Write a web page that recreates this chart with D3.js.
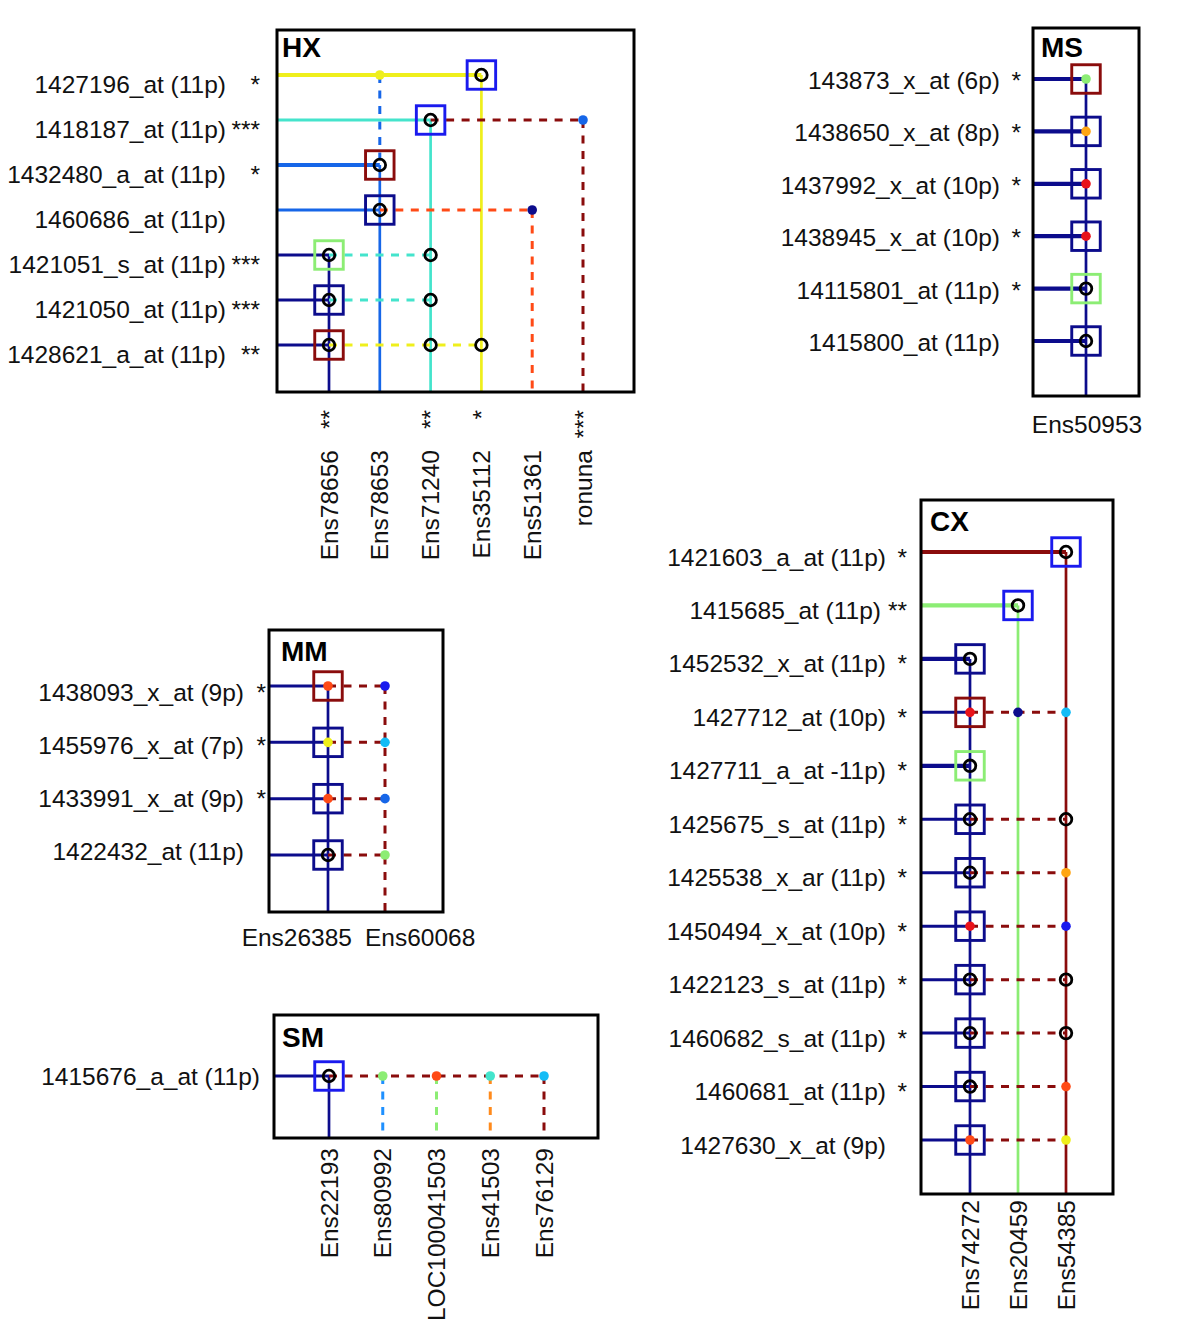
<!DOCTYPE html>
<html><head><meta charset="utf-8">
<script src="https://cdn.jsdelivr.net/npm/d3@7"></script>
<style>body{margin:0;background:#fff}svg{display:block}text{font-family:"Liberation Sans",Arial,sans-serif;fill:#111}</style>
</head><body><svg id="c" width="1200" height="1335"></svg>
<script>
// ---------------- DATA ----------------
// HX
const hxRows = ["1427196_at (11p)","1418187_at (11p)","1432480_a_at (11p)","1460686_at (11p)","1421051_s_at (11p)","1421050_at (11p)","1428621_a_at (11p)"];
const hxRowStars = ["*","***","*","","***","***","**"];
const hxCols = ["Ens78656","Ens78653","Ens71240","Ens35112","Ens51361","ronuna"];
const hxColStars = ["**","","**","*","","***"];
const hxV = [
  {c:1,r0:0,r1:2,color:"dodger",dash:true},{c:1,r0:2,r1:null,color:"dodger",dash:false},
  {c:2,r0:1,r1:null,color:"turq",dash:false},{c:0,r0:4,r1:null,color:"navy",dash:false},
  {c:3,r0:0,r1:null,color:"yellow",dash:false},{c:4,r0:3,r1:null,color:"ored",dash:true},
  {c:5,r0:1,r1:null,color:"dred",dash:true}];
const hxH = [
  {r:0,c0:-1,c1:3,color:"yellow",dash:false},
  {r:1,c0:-1,c1:2,color:"turq",dash:false},{r:1,c0:2,c1:5,color:"dred",dash:true},
  {r:2,c0:-1,c1:1,color:"dodger",dash:false},
  {r:3,c0:-1,c1:1,color:"dodger",dash:false},{r:3,c0:1,c1:4,color:"ored",dash:true},
  {r:4,c0:-1,c1:0,color:"navy",dash:false},{r:4,c0:0,c1:2,color:"turq",dash:true},
  {r:5,c0:-1,c1:0,color:"navy",dash:false},{r:5,c0:0,c1:2,color:"turq",dash:true},
  {r:6,c0:-1,c1:0,color:"navy",dash:false},{r:6,c0:0,c1:3,color:"yellow",dash:true}];
const hxSquares = [[0,3,"blue"],[1,2,"blue"],[2,1,"dred"],[3,1,"navy"],[4,0,"lgreen"],[5,0,"navy"],[6,0,"dred"]];
const hxCircles = [[0,3],[1,2],[2,1],[3,1],[4,0],[4,2],[5,0],[5,2],[6,0],[6,2],[6,3]];
const hxDots = [[0,1,"yellow"],[1,5,"dodger"],[3,4,"navy"]];

// MS
const msRows = ["143873_x_at (6p)","1438650_x_at (8p)","1437992_x_at (10p)","1438945_x_at (10p)","14115801_at (11p)","1415800_at (11p)"];
const msRowStars = ["*","*","*","*","*",""];
const msCols = ["Ens50953"];
const msColStars = [""];
const msV = [{c:0,r0:0,r1:null,color:"navy",dash:false}];
const msH = [0,1,2,3,4,5].map(r => ({r:r,c0:-1,c1:0,color:"navy",dash:false}));
const msSquares = [[0,0,"dred"],[1,0,"navy"],[2,0,"navy"],[3,0,"navy"],[4,0,"lgreen"],[5,0,"navy"]];
const msCircles = [[4,0],[5,0]];
const msDots = [[0,0,"lgreen"],[1,0,"orange"],[2,0,"red"],[3,0,"red"]];

// MM
const mmRows = ["1438093_x_at (9p)","1455976_x_at (7p)","1433991_x_at (9p)","1422432_at (11p)"];
const mmRowStars = ["*","*","*",""];
const mmCols = ["Ens26385","Ens60068"];
const mmColStars = ["",""];
const mmV = [{c:0,r0:0,r1:null,color:"navy",dash:false},{c:1,r0:0,r1:null,color:"dred",dash:true}];
const mmH = [
  {r:0,c0:-1,c1:0,color:"navy",dash:false},{r:0,c0:0,c1:1,color:"dred",dash:true},
  {r:1,c0:-1,c1:0,color:"navy",dash:false},{r:1,c0:0,c1:1,color:"dred",dash:true},
  {r:2,c0:-1,c1:0,color:"navy",dash:false},{r:2,c0:0,c1:1,color:"dred",dash:true},
  {r:3,c0:-1,c1:0,color:"navy",dash:false},{r:3,c0:0,c1:1,color:"dred",dash:true}];
const mmSquares = [[0,0,"dred"],[1,0,"navy"],[2,0,"navy"],[3,0,"navy"]];
const mmCircles = [[3,0]];
const mmDots = [[0,0,"ored"],[1,0,"yellow"],[2,0,"ored"],[0,1,"blue"],[1,1,"sky"],[2,1,"dodger"],[3,1,"lgreen"]];

// SM
const smRows = ["1415676_a_at (11p)"];
const smRowStars = [""];
const smCols = ["Ens22193","Ens80992","LOC100041503","Ens41503","Ens76129"];
const smColStars = ["","","","",""];
const smV = [
  {c:0,r0:0,r1:null,color:"navy",dash:false},{c:1,r0:0,r1:null,color:"azure",dash:true},
  {c:2,r0:0,r1:null,color:"lgreen",dash:true},{c:3,r0:0,r1:null,color:"dorange",dash:true},
  {c:4,r0:0,r1:null,color:"dred",dash:true}];
const smH = [{r:0,c0:-1,c1:0,color:"navy",dash:false},{r:0,c0:0,c1:4,color:"dred",dash:true}];
const smSquares = [[0,0,"blue"]];
const smCircles = [[0,0]];
const smDots = [[0,1,"lgreen"],[0,2,"ored"],[0,3,"turq"],[0,4,"sky"]];

// CX
const cxRows = ["1421603_a_at (11p)","1415685_at (11p)","1452532_x_at (11p)","1427712_at (10p)","1427711_a_at -11p)","1425675_s_at (11p)","1425538_x_ar (11p)","1450494_x_at (10p)","1422123_s_at (11p)","1460682_s_at (11p)","1460681_at (11p)","1427630_x_at (9p)"];
const cxRowStars = ["*","**","*","*","*","*","*","*","*","*","*",""];
const cxCols = ["Ens74272","Ens20459","Ens54385"];
const cxColStars = ["","",""];
const cxV = [
  {c:2,r0:0,r1:null,color:"dred",dash:false},{c:1,r0:1,r1:null,color:"lgreen",dash:false},
  {c:0,r0:2,r1:null,color:"navy",dash:false}];
const cxH = [
  {r:0,c0:-1,c1:2,color:"dred",dash:false},{r:1,c0:-1,c1:1,color:"lgreen",dash:false},
  {r:2,c0:-1,c1:0,color:"navy",dash:false},
  {r:3,c0:-1,c1:0,color:"navy",dash:false},{r:3,c0:0,c1:2,color:"dred",dash:true},
  {r:4,c0:-1,c1:0,color:"navy",dash:false},
  {r:5,c0:-1,c1:0,color:"navy",dash:false},{r:5,c0:0,c1:2,color:"dred",dash:true},
  {r:6,c0:-1,c1:0,color:"navy",dash:false},{r:6,c0:0,c1:2,color:"dred",dash:true},
  {r:7,c0:-1,c1:0,color:"navy",dash:false},{r:7,c0:0,c1:2,color:"dred",dash:true},
  {r:8,c0:-1,c1:0,color:"navy",dash:false},{r:8,c0:0,c1:2,color:"dred",dash:true},
  {r:9,c0:-1,c1:0,color:"navy",dash:false},{r:9,c0:0,c1:2,color:"dred",dash:true},
  {r:10,c0:-1,c1:0,color:"navy",dash:false},{r:10,c0:0,c1:2,color:"dred",dash:true},
  {r:11,c0:-1,c1:0,color:"navy",dash:false},{r:11,c0:0,c1:2,color:"dred",dash:true}];
const cxSquares = [[0,2,"blue"],[1,1,"blue"],[2,0,"navy"],[3,0,"dred"],[4,0,"lgreen"],[5,0,"navy"],[6,0,"navy"],[7,0,"navy"],[8,0,"navy"],[9,0,"navy"],[10,0,"navy"],[11,0,"navy"]];
const cxCircles = [[0,2],[1,1],[2,0],[4,0],[5,0],[5,2],[6,0],[8,0],[8,2],[9,0],[9,2],[10,0]];
const cxDots = [[3,0,"red"],[3,1,"navy"],[3,2,"sky"],[6,2,"orange"],[7,0,"red"],[7,2,"blue"],[10,2,"ored"],[11,0,"ored"],[11,2,"yellow"]];

// ---------------- STYLE / LAYOUT ----------------
const PAL = {navy:"#0c0c8c", blue:"#1a1aee", dodger:"#1666e8", azure:"#1e90ff", sky:"#14bcf6",
  turq:"#44e4cc", lgreen:"#8ced74", yellow:"#efef1c", orange:"#ffa514", dorange:"#ff8a1c",
  ored:"#ff4a16", red:"#e8121a", dred:"#8a0c0c"};

const panels = [
  {title:"HX", box:[277,30,634,392], rowY:[75,345], colX:[329,583], labY:[84.5,354.5], labelX:226, starX:260,
   rows:hxRows, rowStars:hxRowStars, cols:hxCols, colStars:hxColStars, mode:"rot", colLabelY:450, colStarY:410,
   v:hxV, h:hxH, sq:hxSquares, ci:hxCircles, dt:hxDots, tdx:5, tdy:27},
  {title:"MS", box:[1033,28,1139,396], rowY:[79,341], colX:[1086,1086], labY:[80.5,342.5], labelX:1000, starX:1021,
   rows:msRows, rowStars:msRowStars, cols:msCols, colStars:msColStars, mode:"hcenter", colLabelY:433,
   v:msV, h:msH, sq:msSquares, ci:msCircles, dt:msDots, tdx:8, tdy:29},
  {title:"MM", box:[269,630,443,912], rowY:[686,855], colX:[328,385], labY:[692,851], labelX:244, starX:266,
   rows:mmRows, rowStars:mmRowStars, cols:mmCols, colStars:mmColStars, mode:"hspread", colLabelY:946,
   v:mmV, h:mmH, sq:mmSquares, ci:mmCircles, dt:mmDots, tdx:12, tdy:31},
  {title:"SM", box:[274,1015,598,1138], rowY:[1076,1076], colX:[329,544], labY:[1076,1076], labelX:260, starX:266,
   rows:smRows, rowStars:smRowStars, cols:smCols, colStars:smColStars, mode:"rot", colLabelY:1148,
   v:smV, h:smH, sq:smSquares, ci:smCircles, dt:smDots, tdx:8, tdy:32},
  {title:"CX", box:[921,500,1113,1194], rowY:[552,1140], colX:[970,1066], labY:[557,1145], labelX:886, starX:907,
   rows:cxRows, rowStars:cxRowStars, cols:cxCols, colStars:cxColStars, mode:"rot", colLabelY:1200,
   v:cxV, h:cxH, sq:cxSquares, ci:cxCircles, dt:cxDots, tdx:9, tdy:31}
];

const FS = 24.5, SQ = 28.5, CR = 5.8, DR = 4.8, DASH = "8,7.5";
const svg = d3.select("#c");

panels.forEach(p => {
  const [x0,y0,x1,y1] = p.box;
  const g = svg.append("g");
  const idxR = d3.range(p.rows.length), idxC = d3.range(p.cols.length);
  const y = d3.scalePoint().domain(idxR).range(p.rowY);
  const ly = d3.scalePoint().domain(idxR).range(p.labY);
  const xs = d3.scalePoint().domain(idxC).range(p.colX);
  const x = c => c < 0 ? x0 : xs(c);
  const hasExt = new Set(p.h.filter(s => s.dash).map(s => s.r));

  // vertical segments
  g.selectAll("line.v").data(p.v).join("line").attr("class","v")
    .attr("x1", d => x(d.c)).attr("x2", d => x(d.c))
    .attr("y1", d => y(d.r0)).attr("y2", d => d.r1 == null ? y1 : y(d.r1))
    .attr("stroke", d => PAL[d.color]).attr("stroke-width", d => d.dash ? 3 : 2.7)
    .attr("stroke-dasharray", d => d.dash ? DASH : null);

  // horizontal segments
  g.selectAll("line.h").data(p.h).join("line").attr("class","h")
    .attr("x1", d => x(d.c0)).attr("x2", d => x(d.c1))
    .attr("y1", d => y(d.r)).attr("y2", d => y(d.r))
    .attr("stroke", d => PAL[d.color])
    .attr("stroke-width", d => d.dash ? 3 : (hasExt.has(d.r) ? 3 : 4.2))
    .attr("stroke-dasharray", d => d.dash ? DASH : null);

  // squares
  g.selectAll("rect.sq").data(p.sq).join("rect").attr("class","sq")
    .attr("x", d => x(d[1]) - SQ/2).attr("y", d => y(d[0]) - SQ/2)
    .attr("width", SQ).attr("height", SQ).attr("fill","none")
    .attr("stroke", d => PAL[d[2]]).attr("stroke-width", 2.9);

  // dots
  g.selectAll("circle.dt").data(p.dt).join("circle").attr("class","dt")
    .attr("cx", d => x(d[1])).attr("cy", d => y(d[0])).attr("r", DR)
    .attr("fill", d => PAL[d[2]]);

  // circles
  g.selectAll("circle.ci").data(p.ci).join("circle").attr("class","ci")
    .attr("cx", d => x(d[1])).attr("cy", d => y(d[0])).attr("r", CR)
    .attr("fill","none").attr("stroke","#000").attr("stroke-width", 2.8);

  // frame
  g.append("rect").attr("x", x0).attr("y", y0).attr("width", x1 - x0).attr("height", y1 - y0)
    .attr("fill","none").attr("stroke","#000").attr("stroke-width", 3);

  // title
  g.append("text").attr("x", x0 + p.tdx).attr("y", y0 + p.tdy)
    .attr("font-size", 28).attr("font-weight","bold").style("fill","#000").text(p.title);

  // row labels
  g.selectAll("text.rl").data(p.rows).join("text").attr("class","rl")
    .attr("x", (d,i) => p.labelX - (p.title === "CX" && p.rowStars[i].length > 1 ? 5 : 0))
    .attr("y", (d,i) => ly(i)).attr("dy","0.35em")
    .attr("text-anchor","end").attr("font-size", FS).text(d => d);
  g.selectAll("text.rs").data(p.rowStars).join("text").attr("class","rs")
    .attr("x", p.starX).attr("y", (d,i) => ly(i)).attr("dy","0.35em")
    .attr("text-anchor","end").attr("font-size", FS).text(d => d);

  // column labels
  if (p.mode === "rot") {
    g.selectAll("text.cl").data(p.cols).join("text").attr("class","cl")
      .attr("transform", (d,i) => `translate(${xs(i)},${p.colLabelY}) rotate(-90)`)
      .attr("dy","0.35em").attr("text-anchor","end").attr("font-size", FS).text(d => d);
    if (p.colStarY != null) {
      g.selectAll("text.cs").data(p.colStars).join("text").attr("class","cs")
        .attr("transform", (d,i) => `translate(${xs(i)},${p.colStarY}) rotate(-90)`)
        .attr("dy","0.35em").attr("text-anchor","end").attr("font-size", FS).text(d => d);
    }
  } else if (p.mode === "hcenter") {
    g.selectAll("text.cl").data(p.cols).join("text").attr("class","cl")
      .attr("x", (d,i) => xs(i) + 1).attr("y", p.colLabelY)
      .attr("text-anchor","middle").attr("font-size", FS).text(d => d);
  } else {
    g.selectAll("text.cl").data(p.cols).join("text").attr("class","cl")
      .attr("x", (d,i) => i === 0 ? xs(i) + 24 : xs(i) - 20).attr("y", p.colLabelY)
      .attr("text-anchor", (d,i) => i === 0 ? "end" : "start").attr("font-size", FS).text(d => d);
  }
});
</script>
</body></html>
